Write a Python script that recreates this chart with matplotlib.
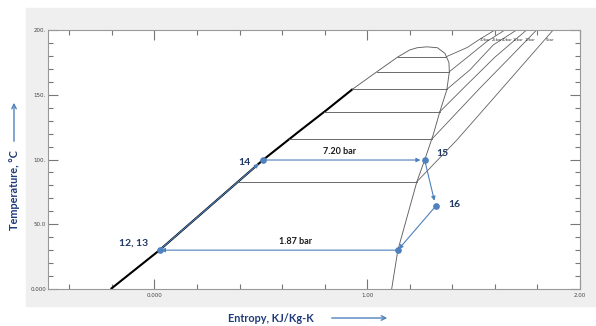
import numpy as np
import matplotlib.pyplot as plt
from matplotlib.patches import Rectangle, FancyArrowPatch

# saturation dome (liquid side -> top -> vapour side)
dome_s = [-0.205, 0.024, 0.51, 0.682, 0.809, 0.932, 1.044, 1.144, 1.20, 1.235,
          1.28, 1.33, 1.365, 1.384, 1.386, 1.374, 1.341, 1.31, 1.27, 1.233,
          1.144, 1.115]
dome_T = [0, 30, 99.6, 122, 138.2, 154.4, 167.6, 179.2, 184.6, 186.3,
          187, 186.3, 182, 175, 167.6, 153.7, 136.7, 119, 99.6, 82.6,
          30, 0]
top_idx = 10  # index of the dome peak

# isobars: saturation temperatures and superheated branches
isobar_T = [179.4, 167.8, 154.2, 136.9, 115.6, 82.9]
isobar_names = ["30bar", "25bar", "20bar", "15bar", "10bar", "5bar"]
sh_s = [[1.47, 1.53, 1.60],
        [1.474, 1.561, 1.647],
        [1.482, 1.592, 1.702],
        [1.467, 1.60, 1.749],
        [1.529, 1.66, 1.796],
        [1.421, 1.60, 1.874]]
sh_T = [[186.5, 193, 200],
        [179.4, 191, 200],
        [169.1, 188.4, 200],
        [157.5, 179, 200],
        [155, 177, 200],
        [115, 148.5, 200]]
label_s = [1.553, 1.609, 1.656, 1.708, 1.765, 1.859]

# cycle states 12/13 -> 14 -> 15 -> 16 -> condenser exit -> 12/13
cyc_s = [0.024, 0.51, 1.27, 1.322, 1.144]
cyc_T = [30, 99.6, 99.6, 64, 30]
p_high = "7.20 bar"
p_low = "1.87 bar"

blue = "#4f81bd"
navy = "#1f3864"
grey = "#606060"

fig = plt.figure(figsize=(5.96, 3.26), dpi=100)
fig.patches.append(Rectangle((26 / 596, 20 / 326), 570 / 596, 298 / 326,
                             transform=fig.transFigure, color="#efefef", zorder=-5))
ax = fig.add_axes([48 / 596, 37 / 326, 532 / 596, 259 / 326], zorder=2)
ax.set_xlim(-0.5, 2.0)
ax.set_ylim(0, 200)

# dome
ax.plot(dome_s, dome_T, color=grey, lw=0.65)
liq_s = np.array(dome_s[:top_idx + 1])
liq_T = np.array(dome_T[:top_idx + 1])
m = liq_T <= 156
ax.plot(liq_s[m], liq_T[m], color="black", lw=1.5, solid_capstyle="butt")

vap_s = np.array(dome_s[top_idx:])[::-1]
vap_T = np.array(dome_T[top_idx:])[::-1]
for T, ss, tt, name, lx in zip(isobar_T, sh_s, sh_T, isobar_names, label_s):
    sf = np.interp(T, liq_T, liq_s)
    sg = np.interp(T, vap_T, vap_s)
    ax.plot([sf, sg], [T, T], color=grey, lw=0.65)
    ax.plot([sg] + ss, [T] + tt, color=grey, lw=0.6)
    ax.text(lx, 192.5, name, fontsize=2.6, color="#333333", ha="center", va="center")

# cycle with arrows
segs = [(0, 1, 4), (1, 2, 3), (2, 3, 4), (3, 4, 1), (4, 0, 1)]
for a, b, shr in segs:
    arr = FancyArrowPatch((cyc_s[a], cyc_T[a]), (cyc_s[b], cyc_T[b]),
                          arrowstyle="-|>", mutation_scale=6, color=blue,
                          lw=0.8, shrinkA=0, shrinkB=shr, zorder=4)
    ax.add_patch(arr)
ax.plot(cyc_s, cyc_T, "o", color=blue, ms=3.8, zorder=5)

tkw = dict(fontsize=6.5, fontweight="bold", family="Lato", ha="center", va="center")
ax.text(0.871, 106, p_high, color="#1a1a1a", **tkw)
ax.text(0.664, 37, p_low, color="#1a1a1a", **tkw)
nkw = dict(tkw, fontsize=7.5, color=navy)
ax.text(0.424, 97.3, "14", **nkw)
ax.text(1.355, 105, "15", **nkw)
ax.text(1.41, 65.6, "16", **nkw)
ax.text(-0.10, 35.5, "12, 13", **nkw)

# axes styling
ax.set_xticks([0, 1, 2], ["0.000", "1.00", "2.00"])
ax.set_xticks(np.arange(-0.4, 2.0, 0.2), minor=True)
ax.set_yticks([0, 50, 100, 150, 200], ["0.000", "50.0", "100.", "150.", "200."])
ax.set_yticks(np.arange(0, 201, 10), minor=True)
ax.tick_params(which="both", direction="in", top=True, right=True, color="#777777",
               width=0.8, labelsize=4, labelcolor="#444444")
ax.tick_params(which="major", length=7)
ax.tick_params(which="minor", length=3.5)
ax.tick_params(axis="x", pad=3)
ax.tick_params(axis="y", pad=1.5)
for sp in ax.spines.values():
    sp.set_color("#999999")
    sp.set_linewidth(0.8)

# axis titles with arrows
lab_col = "#1f3a7a"
fig.text(15 / 596, 1 - 190 / 326, "Temperature, °C", rotation=90, fontsize=7.8,
         fontweight="bold", family="Lato", color=lab_col, ha="center", va="center")
fig.text(271 / 596, 1 - 318 / 326, "Entropy, KJ/Kg-K", fontsize=7.8,
         fontweight="bold", family="Lato", color=lab_col, ha="center", va="center")
fig.add_artist(FancyArrowPatch((14 / 596, 1 - 144 / 326), (14 / 596, 1 - 100 / 326),
                               transform=fig.transFigure, arrowstyle="->",
                               mutation_scale=8, color=blue, lw=1.0))
fig.add_artist(FancyArrowPatch((329 / 596, 1 - 318 / 326), (390 / 596, 1 - 318 / 326),
                               transform=fig.transFigure, arrowstyle="->",
                               mutation_scale=8, color=blue, lw=1.0))

fig.savefig("out.png", dpi=100)
